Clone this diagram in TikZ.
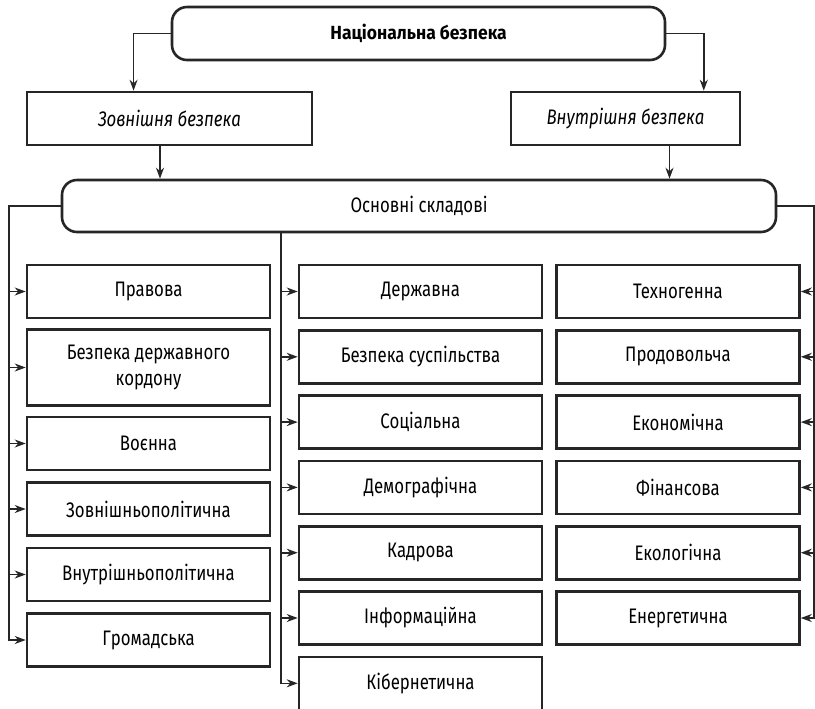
\documentclass[tikz,border=0pt]{standalone}
\usepackage{fontspec}
\setmainfont{Fira Sans}[FakeStretch=0.8]
\newfontfamily\titlefont{Fira Sans}[FakeStretch=0.92]
\usetikzlibrary{positioning,arrows.meta,calc}
\newcommand{\boxfont}{\fontsize{10.5}{13}\selectfont}

\begin{document}
\begin{tikzpicture}[x=0.5pt, y=-0.5pt, on grid,
    box/.style={draw=black!85, line width=1.3pt, minimum width=121.5pt,
      minimum height=26.5pt, align=center, inner sep=2pt, font=\boxfont},
    rbox/.style={box, rounded corners=7.5pt},
    arr/.style={-{Stealth[length=5.5pt, width=4pt]}, line width=0.8pt, draw=black!85}]
    \useasboundingbox (0,0) rectangle (815,708);

    % top levels
    \node[rbox, minimum width=246.5pt, font=\titlefont\bfseries\fontsize{9.5}{11}\selectfont] (nat) at (418.5,33.5) {Національна безпека};
    \node[box, minimum width=142.5pt, font=\itshape\boxfont] (zovn) at (169.5,118.5) {Зовнішня безпека};
    \node[box, minimum width=114.5pt, font=\itshape\boxfont] (vnutr) at (625.5,118.5) {Внутрішня безпека};
    \node[rbox, minimum width=357pt, minimum height=26pt] (osn) at (419,206) {Основні складові};

    % left column
    \node[box] (prav) at (148.5,291.5) {Правова};
    \node[box, minimum height=38pt] (kord) [below=38pt of prav] {Безпека державного\\кордону};
    \node[box] (voen) [below=38pt of kord] {Воєнна};
    \node[box] (zpol) [below=32.75pt of voen] {Зовнішньополітична};
    \node[box] (vpol) [below=32.75pt of zpol] {Внутрішньополітична};
    \node[box] (grom) [below=32.75pt of vpol] {Громадська};

    % middle column
    \node[box] (derzh) at (420.5,291.5) {Державна};
    \node[box] (susp) [below=32.65pt of derzh] {Безпека суспільства};
    \node[box] (soc) [below=32.65pt of susp] {Соціальна};
    \node[box] (demo) [below=32.65pt of soc] {Демографічна};
    \node[box] (kadr) [below=32.65pt of demo] {Кадрова};
    \node[box] (inf) [below=32.65pt of kadr] {Інформаційна};
    \node[box] (kib) [below=32.65pt of inf] {Кібернетична};

    % right column
    \node[box] (tech) at (678,291.5) {Техногенна};
    \node[box] (prod) [below=32.65pt of tech] {Продовольча};
    \node[box] (ekon) [below=32.65pt of prod] {Економічна};
    \node[box] (fin) [below=32.65pt of ekon] {Фінансова};
    \node[box] (ekol) [below=32.65pt of fin] {Екологічна};
    \node[box] (energ) [below=32.65pt of ekol] {Енергетична};

    \coordinate (zo) at ($(zovn.south west)!0.467!(zovn.south east)$);
    \coordinate (vo) at ($(vnutr.south west)!0.69!(vnutr.south east)$);
    \coordinate (lbus) at (9,206);
    \coordinate (mbus) at (281,0);
    \coordinate (rbus) at (814,206);

    \draw[arr] (nat.west) -| ($(zovn.north west)!0.375!(zovn.north east)$);
    \draw[arr] (nat.east) -| ($(vnutr.north west)!0.838!(vnutr.north east)$);
    \draw[arr] (zo) -- (zo |- osn.north);
    \draw[arr] (vo) -- (vo |- osn.north);

    \draw[arr] (osn.west) -- (lbus) |- (grom.west);
    \foreach \n in {prav,kord,voen,zpol,vpol}
      \draw[arr] (lbus |- \n.west) -- (\n.west);
    \draw[arr] (osn.south -| mbus) |- (kib.west);
    \foreach \n in {derzh,susp,soc,demo,kadr,inf}
      \draw[arr] (mbus |- \n.west) -- (\n.west);
    \draw[arr] (osn.east) -- (rbus) |- (energ.east);
    \foreach \n in {tech,prod,ekon,fin,ekol}
      \draw[arr] (rbus |- \n.east) -- (\n.east);
\end{tikzpicture}
\end{document}
